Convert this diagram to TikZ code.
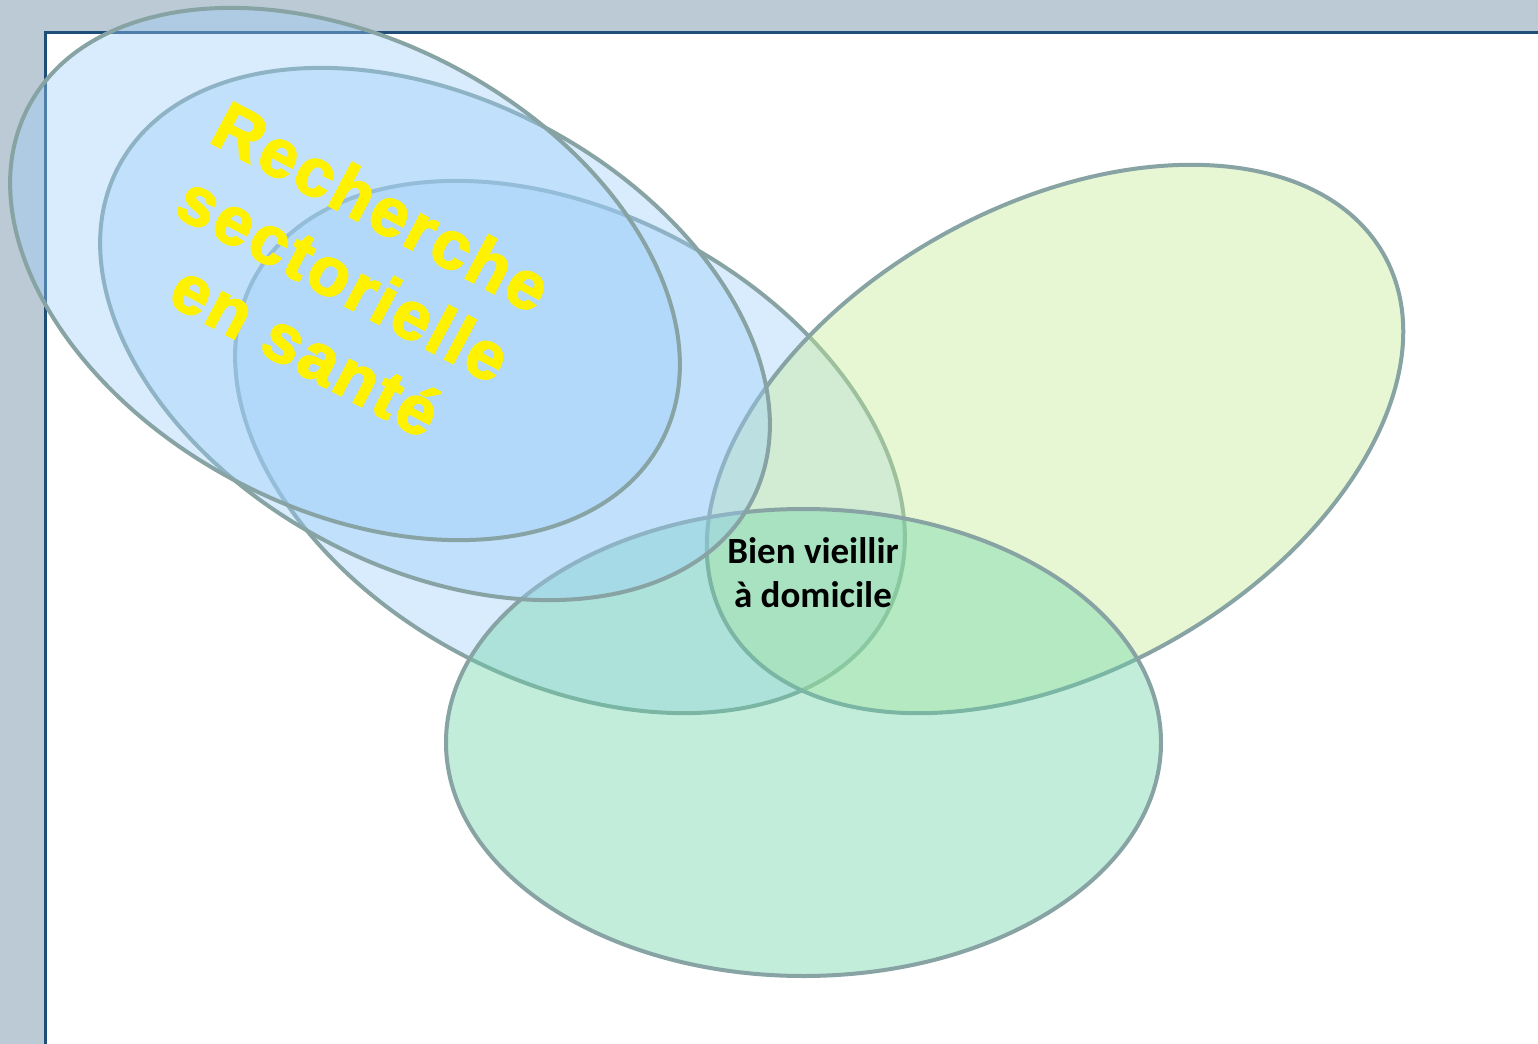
\documentclass[tikz,border=0pt]{standalone}
\usepackage{fontspec}
\setmainfont{Liberation Sans}
\newfontfamily\calib{Carlito}
\newfontfamily\wordart[FakeBold=2.5, LetterSpace=4]{Liberation Sans}
\definecolor{framegray}{HTML}{BCCAD6}
\definecolor{navyline}{HTML}{1F4E79}
\definecolor{edgecol}{HTML}{87A3A3}
\definecolor{bluef}{HTML}{9CCEFA}
\definecolor{limef}{HTML}{C5ED93}
\definecolor{greenf}{HTML}{6BD4A7}
\begin{document}
\begin{tikzpicture}[x=0.5pt,y=0.5pt,
  venn/.style={draw=edgecol, line width=2pt, fill opacity=0.38, draw opacity=1}]
\useasboundingbox (0,0) rectangle (1538,-1044);
% slide frame
\fill[framegray] (0,0) rectangle (1538,-1044);
\fill[white] (46,-33) rectangle (1538,-1044);
\draw[navyline, line width=1.2pt] (45.5,-1044) -- (45.5,-32.5) -- (1538,-32.5);
% ellipses (drawing order matters)
\path[venn, fill=bluef, rotate around={-27.9:(570,-447)}] (570,-447) ellipse [x radius=358, y radius=234];
\path[venn, fill=limef, fill opacity=0.4, rotate around={29.2:(1055,-439)}] (1055,-439) ellipse [x radius=377, y radius=233];
\path[venn, fill=greenf, fill opacity=0.4] (803.5,-742.5) ellipse [x radius=357.5, y radius=233.5];
\path[venn, fill=bluef, rotate around={-27.9:(435,-334)}] (435,-334) ellipse [x radius=358, y radius=234];
\path[venn, fill=bluef, rotate around={-27.9:(345,-274)}] (345,-274) ellipse [x radius=358, y radius=234];
% texts
\node[rotate=-28, align=center, text=yellow, inner sep=0pt,
  font=\wordart\bfseries\fontsize{34}{40.5}\selectfont] (rs) at (344,-278)
  {Recherche\\sectorielle\\en santé};
\node[align=center, inner sep=0pt,
  font=\calib\bfseries\fontsize{18.5}{22}\selectfont] (bv) at (813,-573)
  {Bien vieillir\\à domicile};
\end{tikzpicture}
\end{document}
